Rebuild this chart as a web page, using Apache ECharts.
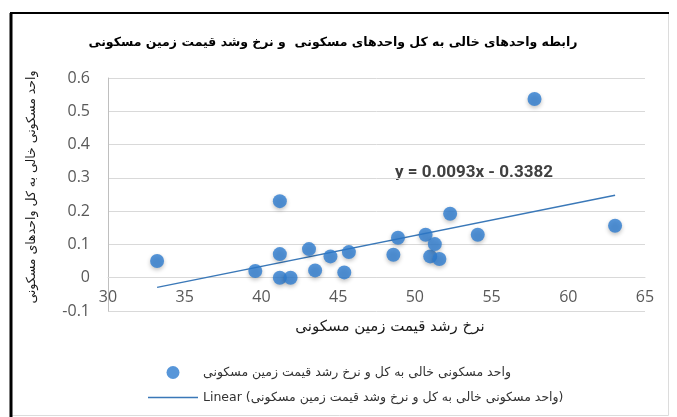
<!DOCTYPE html>
<html>
<head>
<meta charset="utf-8">
<script src="https://cdn.jsdelivr.net/npm/echarts@6/dist/echarts.min.js"></script>
<style>html,body{margin:0;padding:0;background:#fff;}#c{width:677px;height:417px;}</style>
</head>
<body>
<div id="c"></div>
<script>
// Data
const landGrowth = [33.2, 39.6, 41.2, 41.2, 41.2, 41.9, 43.1, 43.5, 44.5, 45.4, 45.7, 48.6, 48.9, 50.7, 51.0, 51.3, 51.6, 52.3, 54.1, 57.8, 63.05];
const vacantShare = [0.05, 0.02, 0.23, 0.071, 0.0, 0.0, 0.086, 0.022, 0.064, 0.016, 0.077, 0.069, 0.12, 0.129, 0.064, 0.101, 0.056, 0.192, 0.129, 0.537, 0.156];
const trendX = [33.2, 63.05];
const trendY = [-0.029, 0.248];
const titleText = 'رابطه واحدهای خالی به کل واحدهای مسکونی  و نرخ وشد قیمت زمین مسکونی';
const xName = 'نرخ رشد قیمت زمین مسکونی';
const yName = 'واحد مسکونی خالی به کل واحدهای مسکونی';
const seriesName = 'واحد مسکونی خالی به کل و نرخ رشد قیمت زمین مسکونی';
const trendName = 'Linear (واحد مسکونی خالی به کل و نرخ وشد قیمت زمین مسکونی)';
const equationText = 'y = 0.0093x - 0.3382';

const scatterData = landGrowth.map((x, i) => [x, vacantShare[i]]);
const trendData = trendX.map((x, i) => [x, trendY[i]]);

const gridTop = 78, gridBottomPx = 311;
const chart = echarts.init(document.getElementById('c'), null, {renderer: 'canvas'});
chart.setOption({
  animation: false,
  backgroundColor: '#ffffff',
  grid: {left: 108, right: 32, top: gridTop, bottom: 417 - gridBottomPx, containLabel: false},
  xAxis: {
    type: 'value', min: 30, max: 65, interval: 5,
    offset: -(gridBottomPx - gridTop) / 7,
    axisLine: {show: true, onZero: false, lineStyle: {color: '#d9d9d9', width: 1}},
    axisTick: {show: false},
    splitLine: {show: false},
    axisLabel: {color: '#595959', fontSize: 16, fontFamily: 'Open Sans', margin: 12}
  },
  yAxis: {
    type: 'value', min: -0.1, max: 0.6, interval: 0.1,
    axisLine: {show: true, lineStyle: {color: '#bfbfbf', width: 1}},
    axisTick: {show: false},
    splitLine: {show: true, lineStyle: {color: '#d9d9d9', width: 1}},
    axisLabel: {color: '#595959', fontSize: 16, fontFamily: 'Open Sans', margin: 18,
      formatter: v => String(Math.round(v * 10) / 10)}
  },
  legend: {
    orient: 'vertical', left: 143, top: 361,
    itemWidth: 50, itemHeight: 13, itemGap: 12,
    textStyle: {fontFamily: 'DejaVu Sans', fontSize: 12.5, color: '#333333'},
    data: [
      {name: seriesName, icon: 'circle'},
      {name: trendName, icon: 'path://M0,0 H50 V1.4 H0 Z', itemStyle: {color: '#3a78b8'}}
    ]
  },
  series: [
    {
      name: seriesName, type: 'scatter', data: scatterData, symbolSize: 14,
      itemStyle: {color: '#2d7cd0', shadowBlur: 4, shadowColor: 'rgba(0,0,0,0.3)', shadowOffsetY: 2}
    },
    {
      name: trendName, type: 'line', data: trendData, symbol: 'none', z: 1,
      itemStyle: {color: '#3a78b8'},
      lineStyle: {color: '#3a78b8', width: 1.5}
    }
  ],
  graphic: [
    {type: 'rect', shape: {x: 11, y: 13.5, width: 657.5, height: 402}, style: {fill: null, stroke: '#dcdcdc', lineWidth: 1}},
    {type: 'line', shape: {x1: 10, y1: 13, x2: 669, y2: 13}, style: {stroke: '#000', lineWidth: 2}},
    {type: 'line', shape: {x1: 11, y1: 13, x2: 11, y2: 417}, style: {stroke: '#000', lineWidth: 3}},
    {type: 'text', x: 333, y: 43, style: {text: titleText, align: 'center', verticalAlign: 'middle',
      font: 'bold 12.5px "DejaVu Sans"', fill: '#000'}},
    {type: 'text', x: 390, y: 327, style: {text: xName, align: 'center', verticalAlign: 'middle',
      font: '15px "DejaVu Sans"', fill: '#1a1a1a'}},
    {type: 'text', x: 32, y: 187, rotation: Math.PI / 2, style: {text: yName, align: 'center', verticalAlign: 'middle',
      font: '12.5px "DejaVu Sans"', fill: '#1a1a1a'}},
    {type: 'text', x: 395, y: 173, style: {text: equationText, align: 'left', verticalAlign: 'middle',
      font: 'bold 17px Roboto', fill: '#404040'}}
  ]
});
</script>
</body>
</html>
